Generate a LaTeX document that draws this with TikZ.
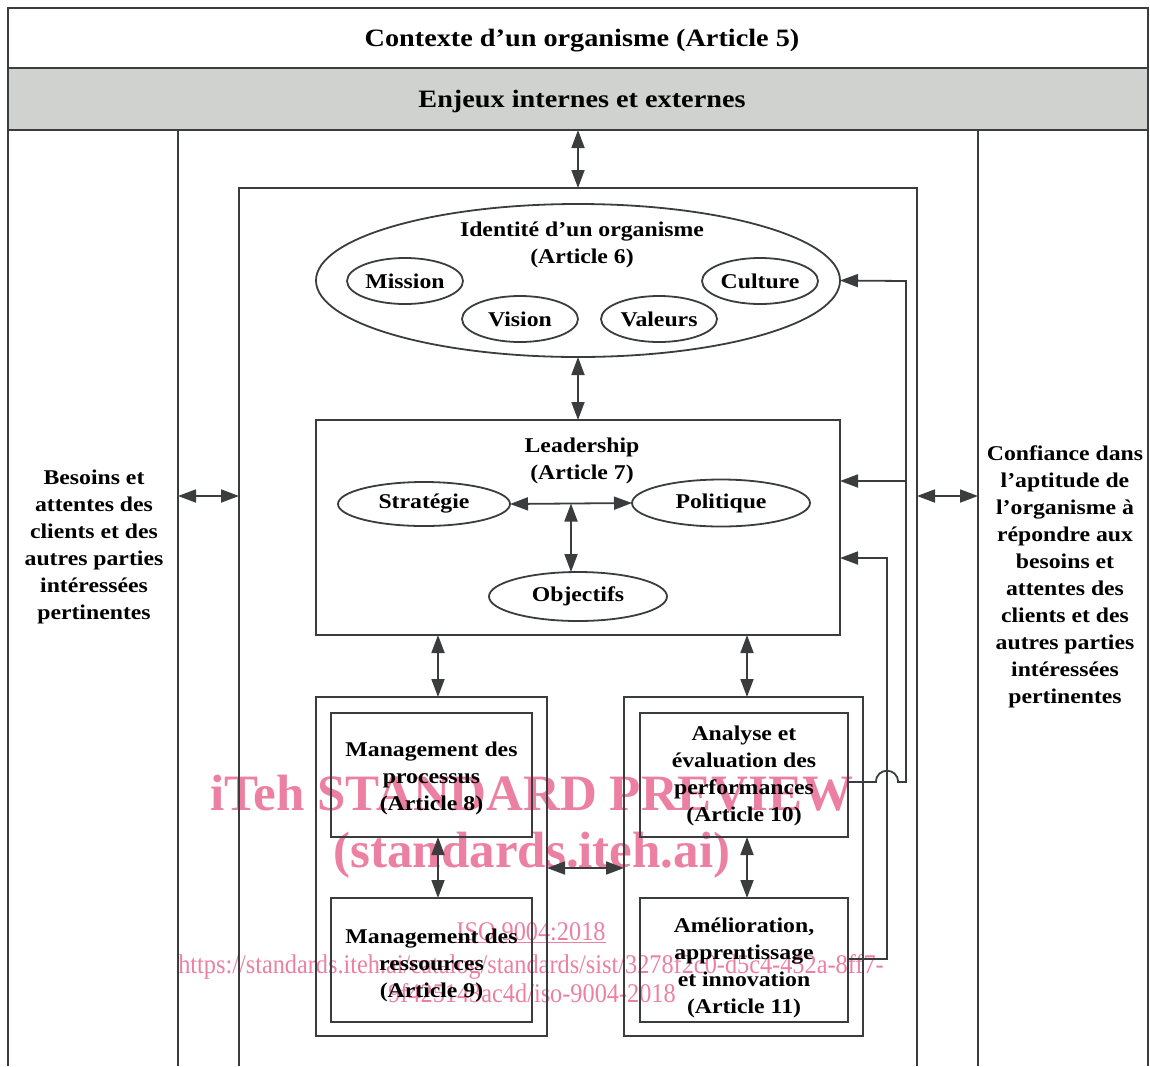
\documentclass[tikz,border=0pt]{standalone}
\usepackage{fontspec}
\setmainfont{Liberation Serif}[FakeStretch=1.13]
\newfontfamily\wmfont{Liberation Serif}
\newfontfamily\wmfontn{Liberation Serif}[FakeStretch=0.9]
\usetikzlibrary{arrows.meta,shapes.geometric}
\definecolor{lncol}{RGB}{58,60,62}
\definecolor{band}{RGB}{208,210,208}
\definecolor{wmcol}{RGB}{236,128,162}
\begin{document}
\begin{tikzpicture}[x=1pt,y=-1pt,
  every node/.style={inner sep=0pt,outer sep=0pt},
  ln/.style={draw=lncol,line width=1.8pt},
  bodyfont/.style={font=\bfseries\fontsize{21}{27}\selectfont},
  box/.style={ln,rectangle},
  oval/.style={ln,ellipse,align=center,bodyfont},
  txt/.style={align=center,bodyfont},
  tip/.tip={Triangle[length=18pt,width=13pt]},
  dbl/.style={ln,tip-tip},
  one/.style={ln,-tip},
  wmtext/.style={text=wmcol,anchor=base}
]
\useasboundingbox (0,0) rectangle (1150,1066);
% watermark (behind the drawing)
\node[wmtext,font=\wmfont\bfseries\fontsize{51}{51}\selectfont] (wm1) at (532,810) {iTeh STANDARD PREVIEW};
\node[wmtext,font=\wmfont\bfseries\fontsize{51}{51}\selectfont] (wm2) at (532,867) {(standards.iteh.ai)};
\node[wmtext,font=\wmfontn\fontsize{27}{27}\selectfont] (wm3) at (531,940) {\underline{ISO 9004:2018}};
\node[wmtext,font=\wmfontn\fontsize{27}{27}\selectfont] (wm4) at (531,973) {https://standards.iteh.ai/catalog/standards/sist/3278f2c0-d5c4-452a-8ff7-};
\node[wmtext,font=\wmfontn\fontsize{27}{27}\selectfont] (wm5) at (532,1002) {9f425143ac4d/iso-9004-2018};
% top rows
\node[ln,minimum width=1140pt,minimum height=60pt] (ctx) at (578,38) {};
\node[ln,fill=band,minimum width=1140pt,minimum height=62pt] (enj) at (578,99) {};
\node[txt,font=\bfseries\fontsize{25}{30}\selectfont] (ctxt) at (582,41) {Contexte d’un organisme (Article 5)};
\node[txt,font=\bfseries\fontsize{25}{30}\selectfont] (enjt) at (582,101) {Enjeux internes et externes};
% frame lines
\draw[ln] (8,130) -- (8,1066);
\draw[ln] (178,130) -- (178,1066);
\draw[ln] (978,130) -- (978,1066);
\draw[ln] (1148,130) -- (1148,1066);
\draw[ln] (239,1066) -- (239,188) -- (917,188) -- (917,1066);
% side texts
\node[txt] (bes) at (94,547) {Besoins et\\attentes des\\clients et des\\autres parties\\intéressées\\pertinentes};
\node[txt] (conf) at (1065,577) {Confiance dans\\l’aptitude de\\l’organisme à\\répondre aux\\besoins et\\attentes des\\clients et des\\autres parties\\intéressées\\pertinentes};
\coordinate (orgtop) at (578,188);
\coordinate (lpR) at (178,496);
\coordinate (orgL) at (239,496);
\coordinate (orgR) at (917,496);
\coordinate (rpL) at (978,496);
\draw[dbl] (enj.south) -- (orgtop);
\draw[dbl] (lpR) -- (orgL);
\draw[dbl] (orgR) -- (rpL);
% identity
\node[oval,minimum width=524pt,minimum height=153pt] (ident) at (578,280.5) {};
\node[txt] (identt) at (582,244.5) {Identité d’un organisme\\(Article 6)};
\node[oval,minimum width=116pt,minimum height=46pt] (mis) at (405,281) {Mission};
\node[oval,minimum width=116pt,minimum height=46pt] (vis) at (520,319) {Vision};
\node[oval,minimum width=116pt,minimum height=46pt] (val) at (659,319) {Valeurs};
\node[oval,minimum width=116pt,minimum height=46pt] (cul) at (760,281) {Culture};
% leadership
\node[box,minimum width=524pt,minimum height=215pt] (lead) at (578,527.5) {};
\node[txt] (leadt) at (582,460.5) {Leadership\\(Article 7)};
\node[oval,minimum width=172pt,minimum height=44pt] (strat) at (424,504) {Stratégie};
\node[oval,minimum width=178pt,minimum height=47pt] (pol) at (721,503) {Politique};
\node[oval,minimum width=178pt,minimum height=49pt] (obj) at (578,596.5) {Objectifs};
\coordinate (mid) at (571,503.5);
\draw[dbl] (strat.east) -- (pol.west);
\draw[dbl] (mid) -- (obj.north -| mid);
\draw[dbl] (ident.south) -- (lead.north);
% lower groups
\node[box,minimum width=231pt,minimum height=339pt] (gl) at (431.5,866.5) {};
\node[box,minimum width=239pt,minimum height=339pt] (gr) at (743.5,866.5) {};
\node[box,minimum width=201pt,minimum height=124pt] (proc) at (431.5,775) {};
\node[box,minimum width=201pt,minimum height=124pt] (res) at (431.5,960) {};
\node[box,minimum width=208pt,minimum height=124pt] (ana) at (744,775) {};
\node[box,minimum width=208pt,minimum height=124pt] (amel) at (744,960) {};
\node[txt] (proct) at (431.5,778) {Management des\\processus\\(Article 8)};
\node[txt] (rest) at (431.5,965) {Management des\\ressources\\(Article 9)};
\node[txt] (anat) at (744,776) {Analyse et\\évaluation des\\performances\\(Article 10)};
\node[txt] (amelt) at (744,968) {Amélioration,\\apprentissage\\et innovation\\(Article 11)};
\coordinate (xl) at (438,0);
\coordinate (xr) at (747,0);
\coordinate (yh) at (0,868);
\draw[dbl] (lead.south -| xl) -- (gl.north -| xl);
\draw[dbl] (lead.south -| xr) -- (gr.north -| xr);
\draw[dbl] (proc.south -| xl) -- (res.north -| xl);
\draw[dbl] (ana.south -| xr) -- (amel.north -| xr);
\draw[dbl] (gl.east |- yh) -- (gr.west |- yh);
% feedback loops
\coordinate (yf) at (0,782);
\coordinate (hopL) at (876,782);
\coordinate (hopR) at (898,782);
\coordinate (fa) at (906,782);
\coordinate (fb) at (906,281);
\coordinate (fc) at (906,481);
\coordinate (y1) at (0,481);
\coordinate (g1) at (887,959);
\coordinate (g2) at (887,558);
\coordinate (y2) at (0,558);
\coordinate (y3) at (0,959);
\draw[one] (ana.east |- yf) -- (hopL) .. controls (876,767) and (898,767) .. (hopR) -- (fa) -- (fb) -- (ident.east);
\draw[one] (fc) -- (lead.east |- y1);
\draw[one] (amel.east |- y3) -- (g1) -- (g2) -- (lead.east |- y2);
\end{tikzpicture}
\end{document}
